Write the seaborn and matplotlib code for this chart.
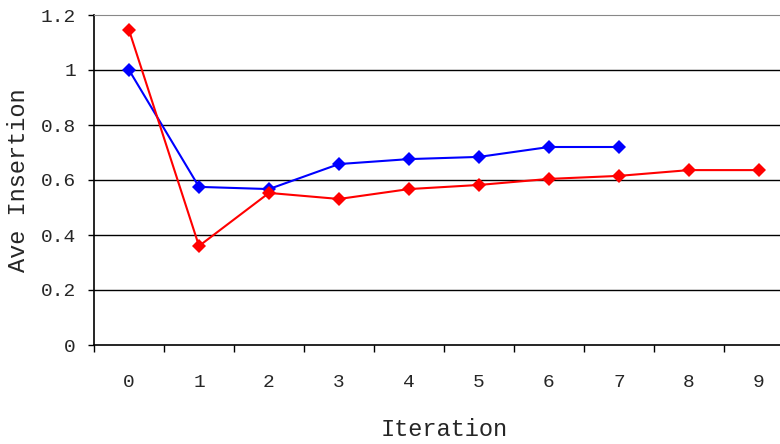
import numpy as np
import pandas as pd
import matplotlib
matplotlib.use('Agg')
import matplotlib.pyplot as plt
import seaborn as sns

# Values
iterations_blue = [0, 1, 2, 3, 4, 5, 6, 7]
blue_values = [1.0, 0.575, 0.567, 0.658, 0.676, 0.684, 0.72, 0.72]
iterations_red = [0, 1, 2, 3, 4, 5, 6, 7, 8, 9]
red_values = [1.145, 0.36, 0.553, 0.531, 0.567, 0.582, 0.604, 0.615, 0.636, 0.636]
x_labels = ['0', '1', '2', '3', '4', '5', '6', '7', '8', '9']
y_ticks = [0, 0.2, 0.4, 0.6, 0.8, 1.0, 1.2]
y_labels = ['0', '0.2', '0.4', '0.6', '0.8', '1', '1.2']

# Long-form table for seaborn
df = pd.concat([
    pd.DataFrame({'Iteration': iterations_blue, 'Ave Insertion': blue_values, 'run': 'blue'}),
    pd.DataFrame({'Iteration': iterations_red, 'Ave Insertion': red_values, 'run': 'red'}),
], ignore_index=True)

sns.set_style('white')
plt.rcParams['font.family'] = ['Liberation Mono', 'DejaVu Sans Mono']

fig = plt.figure(figsize=(7.8, 4.44), dpi=100)
# axes runs a little past the right edge, as in the reference
ax = fig.add_axes([94 / 780, 1 - 345 / 444, 700 / 780, 330 / 444])

sns.lineplot(data=df, x='Iteration', y='Ave Insertion', hue='run',
             palette={'blue': '#0000ff', 'red': '#ff0000'},
             style='run', markers={'blue': 'D', 'red': 'D'}, dashes=False,
             markersize=7, markeredgewidth=0, linewidth=1.5,
             legend=False, ax=ax, zorder=3)

ax.set_xlim(-0.5, 9.5)
ax.set_ylim(0, 1.2)

# horizontal gridlines
for y in y_ticks[1:-1]:
    ax.axhline(y, color='black', linewidth=1, zorder=1)

# spines
ax.spines['left'].set_color('black')
ax.spines['bottom'].set_color('black')
ax.spines['left'].set_linewidth(1.2)
ax.spines['bottom'].set_linewidth(1.2)
ax.spines['top'].set_color('#888888')
ax.spines['right'].set_visible(False)

# ticks: labels at category centres, tick marks at boundaries
ax.set_xticks(range(len(x_labels)))
ax.set_xticklabels(x_labels)
ax.set_xticks(np.arange(-0.5, 10, 1), minor=True)
ax.tick_params(axis='x', which='major', bottom=True, length=0, pad=21, labelsize=14)
ax.tick_params(axis='x', which='minor', bottom=True, length=5, width=1,
               color='black', direction='out')
ax.set_yticks(y_ticks)
ax.set_yticklabels(y_labels)
ax.tick_params(axis='y', left=True, length=4.5, width=1, color='black',
               direction='out', pad=8.5, labelsize=14)

ax.set_xlabel('Iteration', fontsize=17, labelpad=19)
ax.set_ylabel('Ave Insertion', fontsize=17, labelpad=8)

fig.savefig('out.png', dpi=100)
